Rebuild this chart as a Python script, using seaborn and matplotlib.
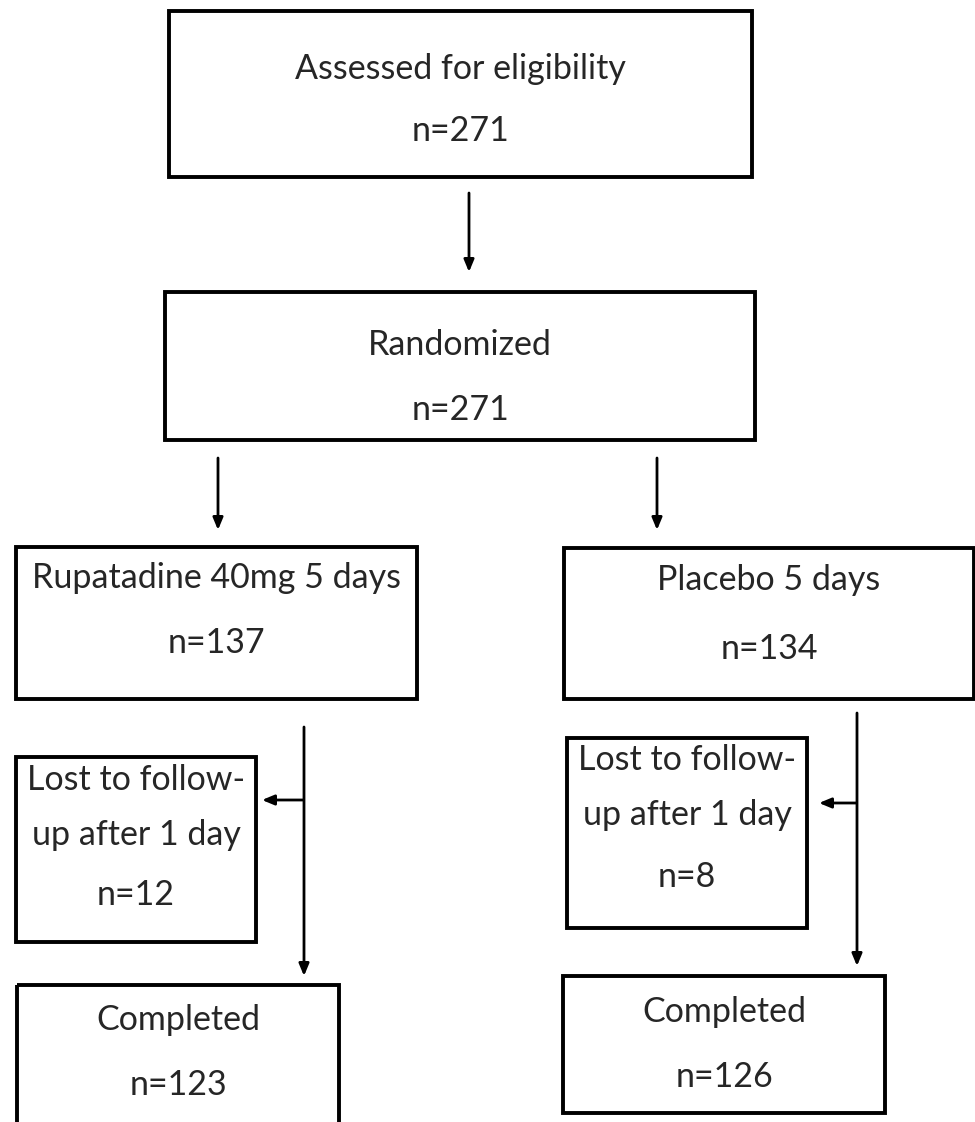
import matplotlib
matplotlib.use('Agg')
import matplotlib.pyplot as plt
from matplotlib.patches import Rectangle
import seaborn as sns

sns.set_theme(style='white')
plt.rcParams['font.family'] = ['Lato', 'DejaVu Sans']

# flowchart content
stages = ['Assessed for eligibility', 'Randomized']
stage_n = [271, 271]
arms = ['Rupatadine 40mg 5 days', 'Placebo 5 days']
arm_n = [137, 134]
lost_label = ['Lost to follow-', 'up after 1 day']
lost_n = [12, 8]
completed_label = 'Completed'
completed_n = [123, 126]

# layout in pixel units (x, y top, width, height)
stage_boxes = [(169, 11, 583, 166), (165, 292, 590, 148)]
arm_boxes = [(16, 547, 401, 152), (564, 548, 410, 151)]
lost_boxes = [(16, 757, 240, 185), (567, 738, 240, 190)]
done_boxes = [(17, 985, 322, 160), (563, 976, 322, 137)]

fig = plt.figure(figsize=(9.75, 11.22), dpi=100)
ax = fig.add_axes([0, 0, 1, 1])
ax.set_xlim(0, 975)
ax.set_ylim(1122, 0)
ax.axis('off')

FS = 24.5


def box(b, lines, ys):
    x, y, w, h = b
    ax.add_patch(Rectangle((x, y), w, h, fill=False, lw=2.8, ec='black'))
    for txt, ty in zip(lines, ys):
        ax.text(x + w / 2, ty, txt, ha='center', va='center', fontsize=FS)


def arrow(x0, y0, x1, y1):
    ax.annotate('', xy=(x1, y1), xytext=(x0, y0),
                arrowprops=dict(arrowstyle='-|>,head_length=0.6,head_width=0.25',
                                lw=2.0, color='black', shrinkA=0, shrinkB=0))


box(stage_boxes[0], [stages[0], f'n={stage_n[0]}'], [69, 131])
box(stage_boxes[1], [stages[1], f'n={stage_n[1]}'], [345, 410])

box(arm_boxes[0], [arms[0], f'n={arm_n[0]}'], [578, 643])
box(arm_boxes[1], [arms[1], f'n={arm_n[1]}'], [580, 649])

box(lost_boxes[0], lost_label + [f'n={lost_n[0]}'], [780, 835, 895])
box(lost_boxes[1], lost_label + [f'n={lost_n[1]}'], [760, 815, 877])

box(done_boxes[0], [completed_label, f'n={completed_n[0]}'], [1020, 1085])
box(done_boxes[1], [completed_label, f'n={completed_n[1]}'], [1012, 1077])

# connectors
arrow(469, 193, 469, 272)
arrow(218, 458, 218, 530)
arrow(657, 458, 657, 530)

arrow(304, 727, 304, 976)
arrow(303, 800, 262, 800)

arrow(857, 713, 857, 966)
arrow(856, 803, 819, 803)

fig.savefig('out.png', dpi=100, facecolor='white')
